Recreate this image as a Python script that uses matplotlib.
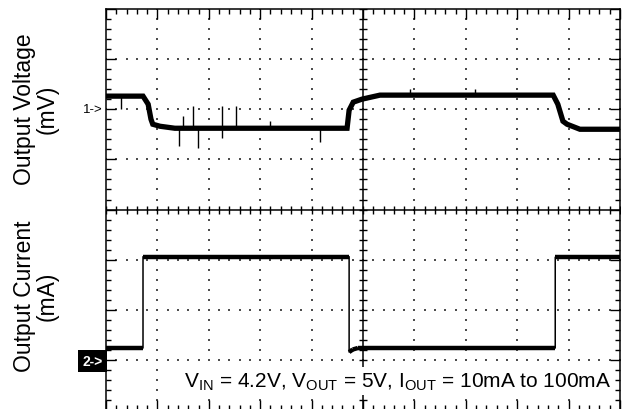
import numpy as np
import matplotlib.pyplot as plt

plt.rcParams['font.family'] = ['Liberation Sans', 'DejaVu Sans']
plt.rcParams['mathtext.fontset'] = 'custom'
plt.rcParams['mathtext.rm'] = 'Liberation Sans'

# scope screen: 10 x 8 divisions, centre line at 0
# output voltage trace (ch1), in divisions
volt_t = [0, 0.72, 0.82, 0.875, 0.91, 1.05, 1.34, 4.69, 4.73, 4.81, 4.98, 5.33, 8.70, 8.79, 8.89, 8.97, 9.22, 10]
volt_v = [2.26, 2.26, 2.10, 1.80, 1.70, 1.66, 1.62, 1.62, 1.98, 2.14, 2.20, 2.28, 2.28, 2.10, 1.76, 1.70, 1.60, 1.60]

# glitches on the voltage trace (time, tip value)
spike_t = [0.29, 1.42, 1.50, 1.69, 1.79, 2.26, 2.26, 2.53, 3.19, 4.16, 5.91, 7.18]
spike_v = [2.00, 1.26, 1.86, 2.06, 1.22, 2.06, 1.42, 2.06, 1.76, 1.34, 2.40, 2.40]

# output current trace (ch2), in divisions
curr_t = [0, 0.72, 0.72, 4.73, 4.73, 4.80, 4.90, 8.74, 8.74, 10]
curr_v = [-2.76, -2.76, -0.94, -0.94, -2.84, -2.79, -2.76, -2.76, -0.95, -0.95]

fig = plt.figure(figsize=(6.32, 4.10), dpi=100)
ax = fig.add_axes([106 / 632, -0.003, 514 / 632, 0.979])
ax.set_xlim(0, 10)
ax.set_ylim(-4, 4)

# frame ticks
ax.set_xticks(np.arange(0, 11, 1))
ax.set_xticks(np.arange(0, 10.01, 0.2), minor=True)
ax.set_yticks(np.arange(-4, 5, 1))
ax.set_yticks(np.arange(-4, 4.01, 0.2), minor=True)
ax.tick_params(which='both', direction='in', top=True, right=True,
               labelbottom=False, labelleft=False, color='k', width=1)
ax.tick_params(which='major', length=7)
ax.tick_params(which='minor', length=3.8)
for s in ax.spines.values():
    s.set_linewidth(1.1)

# dotted graticule
minor_x = np.arange(0, 10.01, 0.2)
minor_y = np.arange(-4, 4.01, 0.2)
for i in [1, 2, 3, 4, 6, 7, 8, 9]:
    ax.scatter(np.full(len(minor_y), i), minor_y, s=1.6, marker='s', color='0.3', linewidths=0, zorder=1)
for j in [-3, -2, -1, 1, 2, 3]:
    ax.scatter(minor_x, np.full(len(minor_x), j), s=1.6, marker='s', color='0.3', linewidths=0, zorder=1)

# centre cross with ticks
ax.axhline(0, color='k', lw=1.1, zorder=2)
ax.axvline(5, color='k', lw=1.1, zorder=2)
ax.plot(minor_x, np.zeros(len(minor_x)), ls='none', marker='|', ms=5.5, mew=1, color='k', zorder=2)
ax.plot(np.full(len(minor_y), 5), minor_y, ls='none', marker='_', ms=5.5, mew=1, color='k', zorder=2)

# voltage trace
ax.plot(volt_t, volt_v, color='k', lw=3.8, solid_joinstyle='miter', zorder=3)
base = np.interp(spike_t, volt_t, volt_v)
ax.vlines(spike_t, base, spike_v, color='k', lw=1, zorder=3)

# current trace: thin edges, noisy flat parts
ax.plot(curr_t, curr_v, color='k', lw=1.1, zorder=3)
for k in range(len(curr_t) - 1):
    if curr_t[k + 1] > curr_t[k]:
        ax.plot(curr_t[k:k + 2], curr_v[k:k + 2], color='k', lw=3.2,
                solid_capstyle='butt', zorder=3)

# channel markers
ax.text(-0.06, 2.0, '1->', ha='right', va='center', fontsize=9.5, color='k')
ax.text(-0.06, -3.02, '2->', ha='right', va='center', fontsize=10, fontweight='bold', color='w',
        bbox=dict(boxstyle='square,pad=0.3', fc='k', ec='none'), clip_on=False)

ax.text(9.83, -3.42, r'V$_{\mathrm{IN}}$ = 4.2V, V$_{\mathrm{OUT}}$ = 5V, I$_{\mathrm{OUT}}$ = 10mA to 100mA',
        ha='right', va='center', fontsize=15, color='k', zorder=5,
        bbox=dict(boxstyle='square,pad=0.15', fc='w', ec='none'))

# axis titles
fig.text(0.057, 0.733, 'Output Voltage\n(mV)', rotation=90, ha='center', va='center',
         fontsize=16.5, linespacing=1.0)
fig.text(0.057, 0.278, 'Output Current\n(mA)', rotation=90, ha='center', va='center',
         fontsize=16.5, linespacing=1.0)

fig.savefig('out.png', dpi=100)
